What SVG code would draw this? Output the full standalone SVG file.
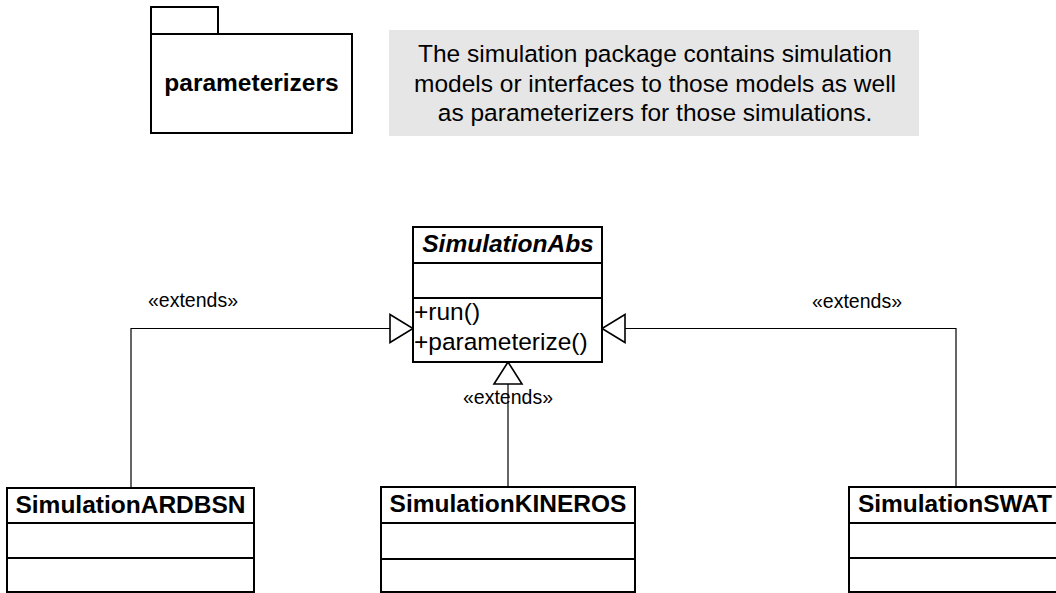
<svg xmlns="http://www.w3.org/2000/svg" width="1056" height="593" viewBox="0 0 1056 593">
<style>
.box{fill:#fff;stroke:#000;stroke-width:2}
.div{stroke:#000;stroke-width:2}
.t{font-family:"Liberation Sans",Arial,sans-serif;font-size:24.5px;fill:#000}
.b{font-weight:bold}
.c{text-anchor:middle}
.lbl{font-family:"Liberation Sans",Arial,sans-serif;font-size:19.5px;fill:#000;text-anchor:middle}
.con{fill:none;stroke:#000;stroke-width:1.2}
.tri{fill:#fff;stroke:#000;stroke-width:1.6}
</style>
<rect width="1056" height="593" fill="#fff"/>
<g id="pkg-parameterizers">
<rect class="box" x="151" y="7" width="67" height="27"/>
<rect class="box" x="151" y="34" width="201" height="99"/>
<text class="t b c" x="251.5" y="91">parameterizers</text>
</g>
<g id="note">
<rect x="389" y="30" width="530" height="106" fill="#e6e6e6"/>
<text class="t c" x="655" y="62">The simulation package contains simulation</text>
<text class="t c" x="655" y="92">models or interfaces to those models as well</text>
<text class="t c" x="655" y="121">as parameterizers for those simulations.</text>
</g>
<g id="connectors">
<polyline class="con" points="131,488 131,328.5 390,328.5"/>
<polygon class="tri" points="390,314.5 413,328.5 390,342.5"/>
<text class="lbl" x="193" y="307">«extends»</text>
<polyline class="con" points="956,487 956,328.5 625,328.5"/>
<polygon class="tri" points="625,314.5 602,328.5 625,342.5"/>
<text class="lbl" x="857" y="308">«extends»</text>
<line class="con" x1="508" y1="487" x2="508" y2="384"/>
<polygon class="tri" points="494,384 508,362 522,384"/>
<text class="lbl" x="508" y="404">«extends»</text>
</g>
<g id="SimulationAbs">
<rect class="box" x="413" y="227" width="189" height="135"/>
<line class="div" x1="413" y1="263" x2="602" y2="263"/>
<line class="div" x1="413" y1="298" x2="602" y2="298"/>
<text class="t b c" x="508" y="252" font-style="italic">SimulationAbs</text>
<text class="t" x="414" y="320">+run()</text>
<text class="t" x="414" y="350">+parameterize()</text>
</g>
<g id="SimulationARDBSN">
<rect class="box" x="7" y="488" width="247" height="104"/>
<line class="div" x1="7" y1="523" x2="254" y2="523"/>
<line class="div" x1="7" y1="558" x2="254" y2="558"/>
<text class="t b c" x="130.5" y="513">SimulationARDBSN</text>
</g>
<g id="SimulationKINEROS">
<rect class="box" x="381" y="487" width="254" height="105"/>
<line class="div" x1="381" y1="523" x2="635" y2="523"/>
<line class="div" x1="381" y1="559" x2="635" y2="559"/>
<text class="t b c" x="508" y="512">SimulationKINEROS</text>
</g>
<g id="SimulationSWAT">
<rect class="box" x="849" y="487" width="214" height="105"/>
<line class="div" x1="849" y1="523" x2="1063" y2="523"/>
<line class="div" x1="849" y1="558" x2="1063" y2="558"/>
<text class="t b c" x="955" y="512">SimulationSWAT</text>
</g>
</svg>
